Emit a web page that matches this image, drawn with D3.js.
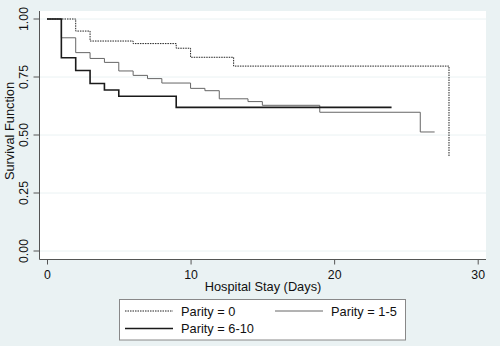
<!DOCTYPE html>
<html><head><meta charset="utf-8">
<script src="https://cdn.jsdelivr.net/npm/d3@7"></script>
<style>body{margin:0;background:#eaf2f3;} svg{display:block;font-family:Arial,"Liberation Sans",sans-serif;}</style>
</head><body><svg id="c" width="500" height="346"></svg>
<script>
const seriesNames = ["Parity = 0", "Parity = 1-5", "Parity = 6-10"];
const days0 = [0, 2, 3, 6, 9, 10, 13, 28];
const surv0 = [1.00, 0.948, 0.905, 0.894, 0.874, 0.835, 0.797, 0.405];
const end0 = 28;
const days1 = [0, 1, 2, 3, 4, 5, 6, 7, 8, 10, 11, 12, 14, 15, 19, 26];
const surv1 = [1.00, 0.919, 0.855, 0.830, 0.813, 0.776, 0.757, 0.743, 0.724, 0.701, 0.691, 0.656, 0.644, 0.628, 0.598, 0.513];
const end1 = 27;
const days2 = [0, 1, 2, 3, 4, 5, 9];
const surv2 = [1.00, 0.833, 0.778, 0.722, 0.694, 0.667, 0.619];
const end2 = 24;
const xTicks = [0, 10, 20, 30];
const yTicks = [0, 0.25, 0.5, 0.75, 1.0];

const FS = 12.8;
const svg = d3.select("#c");
const L = 39.5, R = 486, T = 11, B = 259.5;
svg.append("rect").attr("x", L).attr("y", T).attr("width", R - L).attr("height", B - T).attr("fill", "#fff");
const x = d3.scaleLinear().domain([0, 30]).range([47, 477.7]);
const y = d3.scaleLinear().domain([0, 1]).range([251, 19]);

// grid
svg.selectAll(".g").data(yTicks).enter().append("line")
  .attr("x1", L).attr("x2", R).attr("y1", d => y(d)).attr("y2", d => y(d))
  .attr("stroke", "#eaf2f3").attr("stroke-width", 1);

// axes
const ax = svg.append("g").attr("transform", `translate(0,${B})`)
  .call(d3.axisBottom(x).tickValues(xTicks).tickSize(5).tickPadding(5.5).tickFormat(d3.format("d")));
ax.select(".domain").attr("d", `M${L},0H${R}`);
const ay = svg.append("g").attr("transform", `translate(${L},0)`)
  .call(d3.axisLeft(y).tickValues(yTicks).tickSize(6).tickPadding(3).tickFormat(d3.format(".2f")));
ay.select(".domain").attr("d", `M0,${T}V${B}`);
[ax, ay].forEach(a => {
  a.selectAll("path,line").attr("stroke", "#555");
  a.selectAll("text").attr("font-size", 12.3).attr("fill", "#111").attr("font-family", "Arial,'Liberation Sans',sans-serif");
});
ay.selectAll("text").attr("text-anchor", "middle").attr("dy", null)
  .attr("transform", function(d) { return `translate(-12,${y(d)}) rotate(-90)`; })
  .attr("x", 0).attr("y", 0);
ay.selectAll(".tick").attr("transform", null);
ay.selectAll(".tick line").attr("y1", d => y(d)).attr("y2", d => y(d));

svg.append("text").attr("transform", "translate(14,131) rotate(-90)").attr("text-anchor", "middle")
  .attr("font-size", FS).attr("fill", "#111").text("Survival Function");
svg.append("text").attr("x", 263).attr("y", 291).attr("text-anchor", "middle")
  .attr("font-size", FS).attr("fill", "#111").text("Hospital Stay (Days)");

function stepPts(days, surv, end) {
  const pts = days.map((d, i) => [d, surv[i]]);
  pts.push([end, surv[surv.length - 1]]);
  return pts;
}
const line = d3.line().x(d => x(d[0])).y(d => y(d[1])).curve(d3.curveStepAfter);
const styles = [
  {stroke: "#222", width: 1, dash: "1.5,1"},
  {stroke: "#666", width: 1, dash: null},
  {stroke: "#1a1a1a", width: 1.6, dash: null}
];
const data = [stepPts(days0, surv0, end0), stepPts(days1, surv1, end1), stepPts(days2, surv2, end2)];
data.forEach((pts, i) => {
  svg.append("path").datum(pts).attr("d", line).attr("fill", "none")
    .attr("stroke", styles[i].stroke).attr("stroke-width", styles[i].width)
    .attr("stroke-dasharray", styles[i].dash);
});

// legend
const lg = svg.append("g");
lg.append("rect").attr("x", 119.5).attr("y", 299.5).attr("width", 286).attr("height", 40.5)
  .attr("fill", "#fff").attr("stroke", "#888").attr("stroke-width", 1);
const pos = [[125, 311], [275, 311], [125, 328.5]];
seriesNames.forEach((n, i) => {
  const [px, py] = pos[i];
  lg.append("line").attr("x1", px).attr("x2", px + 48).attr("y1", py).attr("y2", py)
    .attr("stroke", styles[i].stroke).attr("stroke-width", styles[i].width)
    .attr("stroke-dasharray", styles[i].dash);
  lg.append("text").attr("x", px + 56).attr("y", py + 4.5).attr("font-size", FS).attr("fill", "#111").text(n);
});
</script></body></html>
